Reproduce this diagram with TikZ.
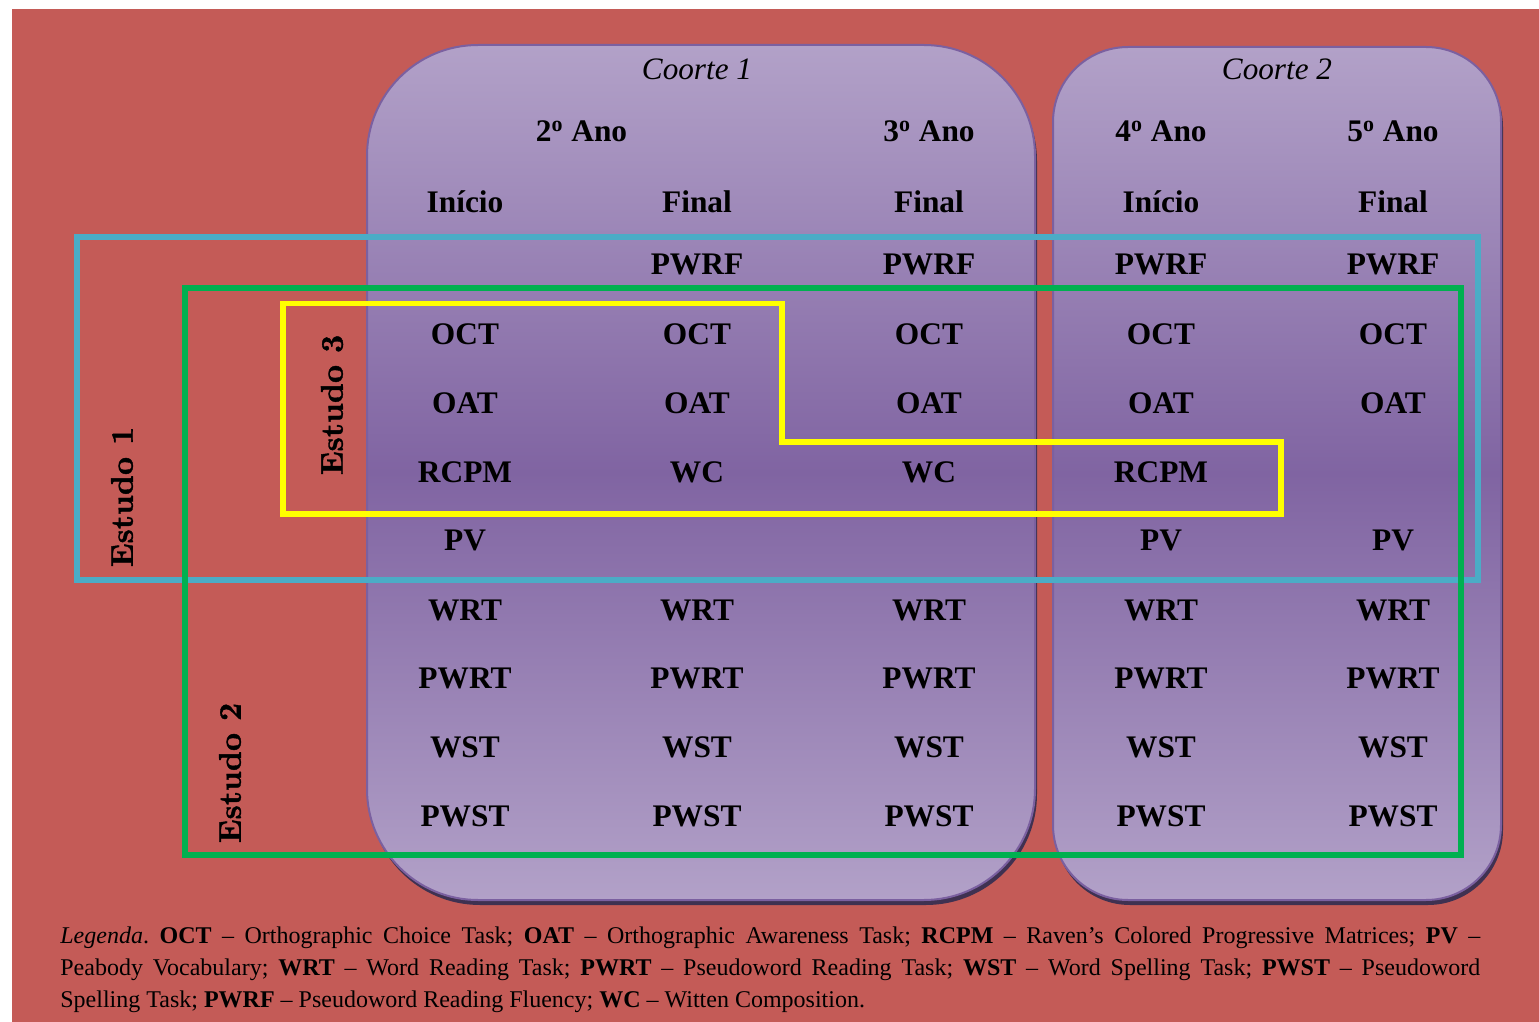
\documentclass[tikz,border=0pt]{standalone}
\usepackage{fontspec}
\newfontfamily\tnr{Liberation Serif}
\newfontfamily\lmbx{lmroman10-bold}[Extension=.otf, FakeBold=1.2]
\definecolor{bgred}{HTML}{C45B57}
\definecolor{panellight}{HTML}{B2A1C8}
\definecolor{paneldark}{HTML}{8064A2}
\definecolor{panelline}{HTML}{7B60A0}
\definecolor{panelshadow}{HTML}{3F3151}
\definecolor{estudoA}{HTML}{4BACC6}
\definecolor{estudoB}{HTML}{00B050}
\definecolor{estudoC}{HTML}{FFFF00}

\begin{document}
\frenchspacing
\begin{tikzpicture}[x=0.5pt,y=-0.5pt,
  lbl/.style={font=\tnr\bfseries\fontsize{15.7}{18}\selectfont, anchor=base, inner sep=0pt},
  coorte/.style={font=\tnr\itshape\fontsize{15.6}{18}\selectfont, anchor=base, inner sep=0pt},
  estudo/.style={font=\lmbx\fontsize{15.7}{18}\selectfont, rotate=90, inner sep=0pt},
  panel/.style={top color=panellight, bottom color=panellight, middle color=paneldark,
                draw=panelline, line width=1pt},
  shadowbox/.style={fill=panelshadow},
  frame/.style={line width=3pt}]

% page and background
\useasboundingbox (0,0) rectangle (1539,1022);
\fill[white] (0,0) rectangle (1539,1022);
\fill[bgred] (12,9) rectangle (1539,1022);

% cohort panels with drop shadow
\fill[shadowbox, rounded corners=55.5pt] (369,50) rectangle (1037,905);
\shade[panel, rounded corners=55.5pt] (367,45) rectangle (1035,900);
\fill[shadowbox, rounded corners=37.5pt] (1055,52) rectangle (1503,905);
\shade[panel, rounded corners=37.5pt] (1053,47) rectangle (1501,900);

% study frames
\draw[frame, estudoA] (77,237.5) rectangle (1478,580);
\draw[frame, estudoB] (185,288) rectangle (1461,855);
\draw[frame, estudoC, line width=2.8pt]
  (283,303.5) -- (782,303.5) -- (782,442) -- (1281,442) -- (1281,514) -- (283,514) -- cycle;

% study labels
\node[estudo] (e1) at (122,497) {Estudo 1};
\node[estudo] (e2) at (230,773) {Estudo 2};
\node[estudo] (e3) at (332,405) {Estudo 3};

% cohort titles
\node[coorte] (c1) at (697,80) {Coorte 1};
\node[coorte] (c2) at (1277,80) {Coorte 2};

% school years
\node[lbl] (a2) at (581.5,142) {2\textsuperscript{o} Ano};
\node[lbl] (a3) at (929,142) {3\textsuperscript{o} Ano};
\node[lbl] (a4) at (1161,142) {4\textsuperscript{o} Ano};
\node[lbl] (a5) at (1393,142) {5\textsuperscript{o} Ano};

% moments
\node[lbl] (m1) at (465,213) {Início};
\node[lbl] (m2) at (697,213) {Final};
\node[lbl] (m3) at (929,213) {Final};
\node[lbl] (m4) at (1161,213) {Início};
\node[lbl] (m5) at (1393,213) {Final};

% fluency
\node[lbl] (f2) at (697,275) {PWRF};
\node[lbl] (f3) at (929,275) {PWRF};
\node[lbl] (f4) at (1161,275) {PWRF};
\node[lbl] (f5) at (1393,275) {PWRF};

% tasks common to every moment
\foreach \x [count=\i] in {465,697,929,1161,1393} {
  \node[lbl] (oct\i) at (\x,344) {OCT};
  \node[lbl] (oat\i) at (\x,413) {OAT};
  \node[lbl] (wrt\i) at (\x,620) {WRT};
  \node[lbl] (pwrt\i) at (\x,688) {PWRT};
  \node[lbl] (wst\i) at (\x,757) {WST};
  \node[lbl] (pwst\i) at (\x,826) {PWST};
}

% moment-specific tasks
\node[lbl] (r1) at (465,482) {RCPM};
\node[lbl] (w2) at (697,482) {WC};
\node[lbl] (w3) at (929,482) {WC};
\node[lbl] (r4) at (1161,482) {RCPM};
\node[lbl] (p1) at (465,550) {PV};
\node[lbl] (p4) at (1161,550) {PV};
\node[lbl] (p5) at (1393,550) {PV};

% legend
\node[anchor=north west, inner sep=0pt, text width=710pt, align=justify,
      font=\tnr\fontsize{12}{16}\selectfont] (legenda) at (60,926)
{\textit{Legenda}. \textbf{OCT} – Orthographic Choice Task; \textbf{OAT} – Orthographic Awareness Task; \textbf{RCPM} – Raven’s Colored Progressive Matrices; \textbf{PV} –\linebreak
Peabody Vocabulary; \textbf{WRT} – Word Reading Task; \textbf{PWRT} – Pseudoword Reading Task; \textbf{WST} – Word Spelling Task; \textbf{PWST} – Pseudoword\linebreak
Spelling Task; \textbf{PWRF} – Pseudoword Reading Fluency; \textbf{WC} – Witten Composition.};

\end{tikzpicture}
\end{document}
